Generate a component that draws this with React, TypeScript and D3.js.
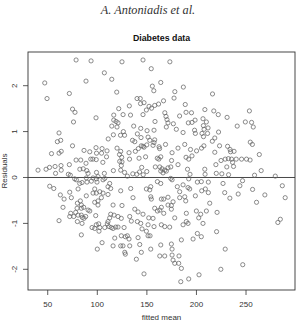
import React from "react";
import * as d3 from "d3";

// Upper-left (fitted < ~118, residual > 0)
const fittedA = [
  78.6, 93.7, 107.1, 114.6, 47.0, 88.6, 119.6, 71.8, 49.3, 75.0,
  77.5, 98.7, 116.6, 116.6, 118.9, 76.0, 114.6, 119.9, 61.4, 59.7,
  63.1, 111.0, 116.2, 75.0, 86.6, 92.4, 98.7, 104.8, 109.8, 99.2,
  104.3, 109.3, 119.9, 53.8, 61.4, 63.6, 78.6, 83.3, 93.4, 95.5,
  98.9, 105.6, 88.6, 71.8, 57.4, 63.4, 63.6, 51.8, 48.3, 40.2,
  82.4, 85.8, 89.4, 99.2, 107.1, 70.8, 72.8, 90.7, 57.9, 116.2,
];
const residA = [
  2.56, 2.54, 2.28, 2.14, 2.06, 2.10, 1.86, 1.83, 1.72, 1.49,
  1.42, 1.30, 1.36, 1.25, 1.22, 1.21, 1.12, 1.10, 0.97, 0.78,
  0.81, 0.84, 0.93, 0.69, 0.59, 0.56, 0.65, 0.63, 0.58, 0.53,
  0.53, 0.45, 0.64, 0.52, 0.53, 0.57, 0.38, 0.38, 0.40, 0.40,
  0.39, 0.33, 0.31, 0.28, 0.24, 0.26, 0.16, 0.22, 0.18, 0.16,
  0.18, 0.19, 0.15, 0.11, 0.09, 0.07, 0.05, 0.09, 0.09, 0.15,
];

// Upper-middle
const fittedB = [
  124.9, 146.1, 173.2, 154.4, 164.0, 155.5, 157.0, 186.8, 178.2, 140.1,
  143.3, 143.6, 147.1, 166.8, 161.8, 157.9, 154.7, 149.5, 152.2, 177.4,
  188.7, 121.6, 132.3, 126.0, 133.5, 146.1, 168.1, 169.3, 170.3, 171.3,
  183.0, 189.5, 195.0, 208.5, 191.8, 195.5, 198.6, 206.6, 210.0, 207.0,
  158.2, 120.9, 136.7, 143.8, 150.2, 157.2, 169.6, 176.7, 179.7, 186.5,
  198.1, 198.9, 207.7, 205.6, 207.1, 211.2, 123.4, 127.5, 126.3, 140.4,
  135.5, 137.8, 144.1, 151.2, 152.9, 157.9, 157.2, 144.4, 146.1, 156.2,
  162.3, 162.8, 168.8, 175.4, 181.4, 188.2, 194.0, 200.1, 205.1, 207.5,
  123.6, 122.4, 124.6, 122.6, 124.9, 124.2, 123.6, 132.0, 138.4, 141.4,
  149.9, 147.1, 132.5, 142.1, 148.7, 160.5, 162.1, 164.0, 174.9, 189.5,
  192.2, 195.5, 127.5, 130.3, 135.8, 139.8, 142.6, 146.3, 149.9, 144.8,
  158.5, 163.0, 165.3, 168.0, 171.3, 174.1, 164.0, 166.3, 169.6, 181.4,
  191.0, 208.4, 193.5, 208.7,
];
const residB = [
  2.52, 2.56, 2.52, 2.37, 2.07, 1.99, 1.89, 1.97, 1.87, 1.72,
  1.72, 1.61, 1.63, 1.67, 1.60, 1.57, 1.51, 1.47, 1.55, 1.73,
  1.59, 1.50, 1.56, 1.37, 1.36, 1.37, 1.41, 1.33, 1.26, 1.19,
  1.34, 1.42, 1.41, 1.48, 1.19, 1.20, 1.25, 1.28, 1.21, 1.13,
  1.22, 1.19, 1.12, 1.07, 1.02, 1.03, 1.10, 1.17, 1.05, 0.98,
  1.03, 0.96, 1.05, 0.96, 0.89, 0.96, 0.92, 0.92, 1.00, 0.95,
  0.81, 0.78, 0.87, 0.88, 0.81, 0.82, 0.76, 0.69, 0.68, 0.70,
  0.67, 0.63, 0.72, 0.54, 0.64, 0.72, 0.61, 0.58, 0.64, 0.69,
  0.57, 0.50, 0.44, 0.35, 0.34, 0.26, 0.16, 0.54, 0.57, 0.63,
  0.71, 0.66, 0.40, 0.42, 0.45, 0.42, 0.40, 0.45, 0.37, 0.44,
  0.40, 0.47, 0.11, 0.03, 0.08, 0.07, 0.12, 0.06, 0.13, 0.22,
  0.23, 0.23, 0.19, 0.16, 0.21, 0.23, 0.14, 0.10, 0.14, 0.28,
  0.18, 0.18, 0.07, 0.07,
];

// Upper-right
const fittedC = [
  216.2, 217.5, 222.0, 230.9, 253.4, 249.3, 255.6, 257.3, 241.1, 222.3,
  218.5, 216.0, 223.3, 231.4, 233.9, 234.4, 237.9, 218.5, 254.3, 256.4,
  263.4, 224.8, 229.0, 232.2, 235.4, 240.1, 236.4, 237.4, 245.5, 250.5,
  254.1, 219.6, 230.6, 220.0, 225.6, 232.4, 258.6, 265.3, 279.5, 211.7,
];
const residC = [
  1.82, 1.45, 1.37, 1.31, 1.45, 1.21, 1.20, 1.10, 1.12, 0.99,
  0.86, 0.79, 0.69, 0.68, 0.61, 0.56, 0.57, 0.55, 0.77, 0.72,
  0.50, 0.37, 0.40, 0.41, 0.40, 0.40, 0.33, 0.24, 0.40, 0.40,
  0.38, 0.28, 0.23, 0.09, 0.08, 0.06, 0.05, 0.15, 0.03, 1.08,
];

// Lower-left
const fittedD = [
  52.0, 56.1, 62.7, 66.5, 65.4, 61.4, 72.2, 73.8, 80.6, 82.3,
  78.9, 77.2, 84.6, 89.6, 94.0, 88.9, 95.7, 99.0, 100.7, 99.7,
  105.8, 107.5, 110.8, 112.5, 113.5, 97.4, 95.7, 99.0, 88.9, 102.5,
  105.8, 110.8, 104.1, 100.7, 97.4, 82.9, 79.9, 83.9, 100.7, 115.9,
  79.6, 83.9, 86.3, 90.7, 92.4, 73.2, 76.2, 72.2, 78.2, 80.6,
  83.9, 84.9, 86.6, 88.3, 98.4, 113.5, 116.9, 112.5, 110.8, 110.1,
  79.9, 84.6, 94.7, 97.4, 99.0, 101.4, 102.5, 107.5, 101.7, 111.8,
  114.1, 115.9, 118.6, 83.9, 117.6, 104.8, 100.0, 115.9,
];
const residD = [
  -0.19, -0.24, -0.38, -0.47, -0.65, -0.94, -0.32, -0.44, -0.25, -0.13,
  -0.05, -0.03, -0.11, -0.10, -0.08, -0.01, -0.01, -0.03, 0.02, -0.10,
  -0.05, -0.02, -0.20, -0.13, -0.24, -0.25, -0.34, -0.34, -0.40, -0.31,
  -0.34, -0.37, -0.44, -0.51, -0.54, -0.51, -0.56, -0.60, -0.60, -0.60,
  -0.67, -0.67, -0.65, -0.71, -0.73, -0.78, -0.85, -0.85, -0.76, -0.82,
  -0.82, -0.87, -0.89, -0.85, -0.83, -0.80, -0.82, -0.88, -0.96, -1.01,
  -0.96, -1.00, -1.09, -1.11, -1.03, -1.01, -1.09, -1.09, -1.17, -1.07,
  -1.09, -1.11, -1.08, -1.25, -1.32, -1.42, -1.56, -1.49,
];

// Lower-middle
const fittedE = [
  123.6, 133.7, 149.5, 153.9, 152.9, 160.6, 164.0, 174.1, 175.4, 180.7,
  183.1, 186.5, 191.5, 193.2, 192.2, 200.9, 204.9, 209.0, 198.9, 136.0,
  153.9, 154.5, 164.6, 167.0, 171.3, 183.1, 188.2, 189.2, 176.4, 124.9,
  137.8, 141.1, 146.1, 157.9, 160.6, 163.0, 164.6, 171.3, 174.7, 174.7,
  156.2, 167.0, 178.1, 189.8, 199.9, 202.3, 204.3, 210.0, 120.9, 124.2,
  132.7, 134.3, 140.4, 151.9, 120.9, 127.0, 143.8, 145.1, 149.5, 151.2,
  157.2, 164.6, 168.0, 173.0, 186.5, 189.8, 191.5, 206.6, 151.2, 153.2,
  124.2, 128.3, 130.3, 132.0, 141.1, 184.8, 196.6, 200.9, 204.9, 123.6,
  125.9, 132.7, 142.8, 153.9, 164.0, 174.7, 175.4, 127.7, 128.3, 144.4,
  163.0, 168.0, 175.4, 182.4, 139.4, 176.4, 178.1, 182.1, 184.8, 147.1,
  202.6, 192.2, 184.2, 205.3, 212.0, 212.0,
];
const residE = [
  -0.29, -0.24, -0.25, -0.20, -0.27, -0.09, -0.13, -0.02, -0.05, -0.20,
  -0.31, -0.16, -0.22, -0.25, -0.03, -0.10, -0.09, -0.25, -0.40, -0.44,
  -0.42, -0.47, -0.47, -0.47, -0.43, -0.44, -0.42, -0.51, -0.53, -0.61,
  -0.69, -0.75, -0.80, -0.67, -0.73, -0.71, -0.65, -0.60, -0.61, -0.69,
  -0.89, -0.78, -0.88, -0.78, -0.73, -0.88, -0.80, -0.73, -0.85, -0.89,
  -0.85, -0.95, -0.96, -0.88, -1.08, -1.09, -1.00, -1.12, -1.17, -1.03,
  -1.07, -1.03, -1.07, -1.08, -1.03, -0.96, -1.00, -1.00, -1.27, -1.27,
  -1.27, -1.29, -1.27, -1.34, -1.31, -1.36, -1.34, -1.22, -1.29, -1.49,
  -1.49, -1.49, -1.46, -1.56, -1.47, -1.45, -1.56, -1.63, -1.67, -1.63,
  -1.71, -1.71, -1.69, -1.71, -1.78, -1.80, -1.87, -1.87, -1.98, -2.10,
  -2.12, -2.21, -2.27, -0.29, -0.33, -0.10,
];

// Lower-right
const fittedF = [
  246.5, 226.8, 228.5, 233.7, 243.8, 242.1, 256.6, 260.6, 269.0, 286.6,
  289.5, 213.4, 220.8, 220.3, 229.0, 224.6, 246.7, 284.6, 282.1,
];
const residF = [
  -0.07, -0.13, -0.33, -0.45, -0.18, -0.36, -0.26, -0.54, -0.38, -0.18,
  -0.44, -0.56, -0.76, -1.18, -1.56, -2.00, -1.90, -0.91, -0.98,
];

const xTicks = [50, 100, 150, 200, 250];
const yTicks = [-2, -1, 0, 1, 2];
const titleText = "Diabetes data";
const headerText = "A. Antoniadis et al.";
const xLabel = "fitted mean";
const yLabel = "Residuals";

const fitted = [...fittedA, ...fittedB, ...fittedC, ...fittedD, ...fittedE, ...fittedF];
const residuals = [...residA, ...residB, ...residC, ...residD, ...residE, ...residF];

export default function App() {
  const W = 297;
  const H = 323;
  const left = 28, right = 295, top = 52, bottom = 290;
  const x = d3.scaleLinear().domain([30.1, 299.4]).range([left, right]);
  const y = d3.scaleLinear().domain([-2.451, 2.734]).range([bottom, top]);
  const sans = "'Liberation Sans', Arial, Helvetica, sans-serif";
  const ink = "#333";
  const n = Math.min(fitted.length, residuals.length);
  const pts = d3.range(n).map((i) => [fitted[i], residuals[i]]);
  return (
    <svg
      width={W}
      height={H}
      viewBox={`0 0 ${W} ${H}`}
      style={{ position: "absolute", left: 0, top: 0, background: "#fff" }}
    >
      <rect x={0} y={0} width={W} height={H} fill="#fff" />
      <text
        x={148}
        y={14}
        textAnchor="middle"
        fontFamily="'Liberation Serif', 'DejaVu Serif', serif"
        fontStyle="italic"
        fontSize={12.3}
        fill="#333"
      >
        {headerText}
      </text>
      <text
        x={(left + right) / 2}
        y={41}
        textAnchor="middle"
        fontFamily={sans}
        fontWeight="bold"
        fontSize={8.8}
        fill="#111"
      >
        {titleText}
      </text>
      <rect
        x={left}
        y={top}
        width={right - left}
        height={bottom - top}
        fill="none"
        stroke={ink}
        strokeWidth={0.9}
      />
      <line x1={left} x2={right} y1={y(0)} y2={y(0)} stroke={ink} strokeWidth={0.9} />
      {pts.map((p, i) => (
        <circle
          key={i}
          cx={x(p[0])}
          cy={y(p[1])}
          r={2.1}
          fill="none"
          stroke="#666"
          strokeWidth={0.75}
        />
      ))}
      {xTicks.map((t) => (
        <g key={t}>
          <line x1={x(t)} x2={x(t)} y1={bottom} y2={bottom + 5} stroke={ink} strokeWidth={0.8} />
          <text
            x={x(t)}
            y={307.2}
            textAnchor="middle"
            fontFamily={sans}
            fontSize={8}
            fill="#333"
          >
            {t}
          </text>
        </g>
      ))}
      {yTicks.map((t) => (
        <g key={t}>
          <line x1={left - 5} x2={left} y1={y(t)} y2={y(t)} stroke={ink} strokeWidth={0.8} />
          <text
            transform={`translate(${17},${y(t)}) rotate(-90)`}
            textAnchor="middle"
            fontFamily={sans}
            fontSize={8}
            fill="#333"
          >
            {t}
          </text>
        </g>
      ))}
      <text
        x={(left + right) / 2}
        y={319.5}
        textAnchor="middle"
        fontFamily={sans}
        fontSize={8}
        fill="#333"
      >
        {xLabel}
      </text>
      <text
        transform={`translate(${7},${(top + bottom) / 2}) rotate(-90)`}
        textAnchor="middle"
        fontFamily={sans}
        fontSize={8}
        fill="#333"
      >
        {yLabel}
      </text>
    </svg>
  );
}
